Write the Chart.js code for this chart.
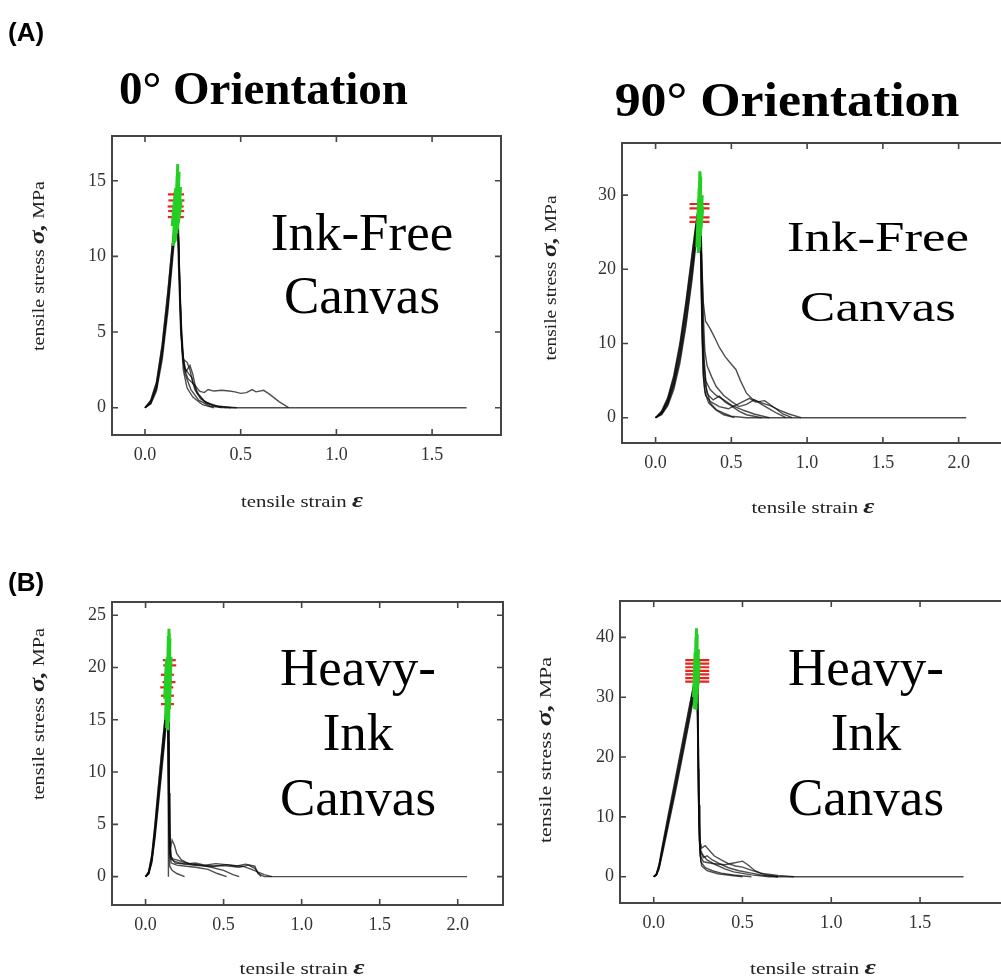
<!DOCTYPE html>
<html><head><meta charset="utf-8">
<script src="https://cdn.jsdelivr.net/npm/chart.js@4/dist/chart.umd.min.js"></script>
<style>
html,body{margin:0;padding:0;background:#fff;}
#wrap{position:relative;width:1001px;height:978px;overflow:hidden;background:#fff;}
canvas{position:absolute;left:0;top:0;}
</style></head><body>
<div id="wrap">
<canvas id="cA0" width="1001" height="978"></canvas>
<canvas id="cA90" width="1001" height="978"></canvas>
<canvas id="cB0" width="1001" height="978"></canvas>
<canvas id="cB90" width="1001" height="978"></canvas>
</div>
<script>
// ---------------- DATA ----------------
const xTickLabelsA0 = [0, 0.5, 1.0, 1.5];
const yTickLabelsA0 = [0, 5, 10, 15];
const xTickLabelsA90 = [0, 0.5, 1.0, 1.5, 2.0];
const yTickLabelsA90 = [0, 10, 20, 30];
const xTickLabelsB0 = [0, 0.5, 1.0, 1.5, 2.0];
const yTickLabelsB0 = [0, 5, 10, 15, 20, 25];
const xTickLabelsB90 = [0, 0.5, 1.0, 1.5];
const yTickLabelsB90 = [0, 10, 20, 30, 40];

// (A) 0° orientation, ink-free canvas : [strain, stress MPa]
const inkFree0_c1 = [[0,0],[0.03,0.3],[0.06,1.3],[0.09,3.6],[0.12,6.8],[0.14,9.6],[0.155,11.8],[0.165,12.9],[0.172,12.2],[0.178,9.5],[0.185,6.0],[0.195,3.6],[0.21,2.2],[0.24,1.2],[0.28,0.5],[0.34,0.1],[0.42,0],[1.68,0]];
const inkFree0_c2 = [[0,0],[0.03,0.45],[0.06,1.6],[0.09,4.1],[0.12,7.6],[0.14,10.5],[0.158,12.6],[0.168,13.3],[0.175,11.8],[0.182,8.0],[0.19,5.0],[0.2,3.0],[0.215,2.4],[0.235,2.8],[0.25,2.2],[0.27,1.0],[0.31,0.4],[0.38,0.1],[0.48,0]];
const inkFree0_c3 = [[0,0],[0.03,0.25],[0.06,1.1],[0.09,3.2],[0.12,6.4],[0.145,9.9],[0.16,12.0],[0.168,12.4],[0.176,10.5],[0.184,7.0],[0.193,4.2],[0.205,2.6],[0.225,1.9],[0.26,1.5],[0.285,1.1],[0.31,1.0],[0.33,1.2],[0.36,1.1],[0.4,1.15],[0.44,1.1],[0.47,1.05],[0.5,0.95],[0.53,1.0],[0.56,1.2],[0.58,1.05],[0.62,1.15],[0.65,0.9],[0.7,0.4],[0.75,0]];
const inkFree0_c4 = [[0,0],[0.03,0.35],[0.06,1.4],[0.09,3.7],[0.12,7.0],[0.14,9.9],[0.155,11.9],[0.163,12.5],[0.17,11.6],[0.178,8.2],[0.186,5.2],[0.2,3.2],[0.22,3.0],[0.235,2.5],[0.25,1.6],[0.28,0.9],[0.32,0.3],[0.4,0]];
const inkFree0_c5 = [[0,0],[0.03,0.3],[0.06,1.3],[0.09,3.5],[0.12,6.9],[0.145,10.4],[0.16,12.3],[0.17,12.8],[0.177,10.8],[0.183,7.5],[0.19,4.5],[0.2,2.5],[0.22,1.3],[0.25,0.7],[0.3,0.2],[0.36,0]];
const inkFree0_c6 = [[0,0],[0.03,0.5],[0.06,1.7],[0.09,4.2],[0.12,7.8],[0.145,11.0],[0.16,12.5],[0.167,13.0],[0.174,11.5],[0.181,8.5],[0.19,5.5],[0.2,3.4],[0.21,2.6],[0.225,2.3],[0.245,2.0],[0.26,1.2],[0.29,0.6],[0.35,0.15],[0.45,0]];
const inkFree0_green = [[[0.148,10.7],[0.160,14.5]],[[0.154,10.9],[0.168,15.3]],[[0.160,11.2],[0.171,16.1]],[[0.166,11.5],[0.178,15.6]],[[0.170,11.8],[0.186,14.6]],[[0.158,11.0],[0.170,15.8]],[[0.142,12.0],[0.156,14.0]],[[0.174,12.2],[0.190,13.8]]];
const inkFree0_red = [[0.162,14.1],[0.164,13.7],[0.160,13.3],[0.163,13.0],[0.161,12.6]];

// (A) 90° orientation, ink-free canvas
const inkFree90_c1 = [[0,0],[0.04,0.6],[0.08,2.0],[0.12,4.5],[0.16,8.3],[0.2,13.5],[0.24,19.8],[0.27,25.0],[0.285,27.8],[0.293,28.5],[0.3,24],[0.31,15],[0.32,8],[0.335,4],[0.36,2.0],[0.4,1.1],[0.45,0.6],[0.5,0.2],[0.6,0],[2.05,0]];
const inkFree90_c2 = [[0,0],[0.04,0.8],[0.08,2.5],[0.12,5.4],[0.16,9.6],[0.2,15.2],[0.24,21.6],[0.27,26.4],[0.283,28.2],[0.29,28.8],[0.297,26],[0.305,20],[0.315,15.5],[0.33,13],[0.36,12],[0.39,10.8],[0.42,9.5],[0.46,8.2],[0.5,7.2],[0.53,6.5],[0.56,5.0],[0.6,3.3],[0.64,2.5],[0.7,2.0],[0.76,1.6],[0.82,1.0],[0.88,0.5],[0.96,0]];
const inkFree90_c3 = [[0,0],[0.04,0.4],[0.08,1.6],[0.12,3.8],[0.16,7.3],[0.2,12.3],[0.24,18.5],[0.27,24.0],[0.29,27.3],[0.298,27.0],[0.305,22],[0.315,14],[0.325,9],[0.34,7.0],[0.37,5.5],[0.4,4.2],[0.45,3.0],[0.5,2.2],[0.55,1.5],[0.6,1.8],[0.65,2.4],[0.7,1.8],[0.75,1.2],[0.8,0.6],[0.86,0]];
const inkFree90_c4 = [[0,0],[0.04,0.6],[0.08,2.1],[0.12,4.7],[0.16,8.6],[0.2,14.0],[0.24,20.3],[0.265,24.7],[0.28,27.2],[0.288,27.9],[0.295,25],[0.302,18],[0.31,10],[0.32,5.5],[0.34,3.2],[0.38,2.4],[0.42,2.9],[0.46,2.1],[0.5,1.6],[0.55,0.9],[0.6,0.4],[0.7,0]];
const inkFree90_c5 = [[0,0],[0.04,0.5],[0.08,1.8],[0.12,4.2],[0.16,7.8],[0.2,12.8],[0.24,19.0],[0.27,25.0],[0.285,28.0],[0.292,27.5],[0.3,20],[0.308,11],[0.318,5],[0.33,3.0],[0.36,2.2],[0.42,1.5],[0.48,1.2],[0.55,1.9],[0.62,2.6],[0.66,2.1],[0.72,2.3],[0.78,1.4],[0.84,0.5],[0.9,0]];
const inkFree90_c6 = [[0,0],[0.04,0.7],[0.08,2.3],[0.12,5.1],[0.16,9.2],[0.2,14.7],[0.24,20.9],[0.268,25.6],[0.284,27.5],[0.29,27.2],[0.297,22],[0.305,13],[0.313,6],[0.325,3.5],[0.35,2.0],[0.4,1.0],[0.45,0.4],[0.52,0]];
const inkFree90_c7 = [[0,0],[0.04,0.9],[0.08,2.7],[0.12,5.7],[0.16,10.0],[0.2,15.6],[0.235,21.2],[0.265,26.0],[0.282,28.4],[0.29,29.0],[0.296,26],[0.303,19],[0.31,12],[0.32,7],[0.33,5],[0.36,3.8],[0.4,3.0],[0.45,2.4],[0.5,1.7],[0.58,1.0],[0.65,0.5],[0.75,0]];
const inkFree90_green = [[[0.272,23],[0.288,31]],[[0.282,22.2],[0.292,33.2]],[[0.290,23],[0.298,32.5]],[[0.296,24.5],[0.308,30]],[[0.276,25],[0.284,29.5]],[[0.287,22.5],[0.294,33]],[[0.300,25.5],[0.312,28.5]]];
const inkFree90_red = [[0.29,28.8],[0.29,28.2],[0.29,27.0],[0.29,26.4]];

// (B) 0° orientation, heavy-ink canvas
const heavy0_c1 = [[0,0],[0.02,0.3],[0.04,1.6],[0.06,4.2],[0.08,7.3],[0.1,10.4],[0.12,13.4],[0.135,15.8],[0.143,16.8],[0.148,14],[0.152,8],[0.156,3.5],[0.162,1.7],[0.18,1.5],[0.22,1.3],[0.3,1.1],[0.4,1.0],[0.5,1.05],[0.6,0.9],[0.66,1.1],[0.7,0.8],[0.74,0]];
const heavy0_c2 = [[0,0],[0.02,0.5],[0.04,2.1],[0.06,5.0],[0.08,8.3],[0.1,11.5],[0.12,14.5],[0.132,16.0],[0.138,16.5],[0.143,15],[0.147,9],[0.151,4.5],[0.158,2.5],[0.17,3.5],[0.185,3.0],[0.2,2.2],[0.23,1.6],[0.28,1.2],[0.35,1.1],[0.42,0.9],[0.5,0.6],[0.56,0.2],[0.6,0]];
const heavy0_c3 = [[0,0],[0.02,0.25],[0.04,1.3],[0.06,3.6],[0.08,6.5],[0.1,9.5],[0.12,12.6],[0.135,15.1],[0.145,16.2],[0.146,10],[0.147,0]];
const heavy0_c4 = [[0,0],[0.02,0.35],[0.04,1.7],[0.06,4.3],[0.08,7.5],[0.1,10.6],[0.12,13.7],[0.137,16.3],[0.145,17.0],[0.15,12],[0.155,5],[0.16,2.0],[0.175,1.7],[0.2,1.6],[0.24,1.4],[0.3,1.2],[0.36,1.1],[0.44,1.0],[0.52,1.15],[0.58,1.0],[0.64,1.2],[0.7,1.0],[0.72,0.3],[0.76,0],[2.06,0]];
const heavy0_c5 = [[0,0],[0.02,0.3],[0.04,1.5],[0.06,3.9],[0.08,6.9],[0.1,9.9],[0.12,12.9],[0.134,15.3],[0.14,16.0],[0.145,13],[0.15,6],[0.155,2.2],[0.165,1.3],[0.2,1.1],[0.26,1.0],[0.32,0.9],[0.4,0.7],[0.46,0.3],[0.52,0]];
const heavy0_c6 = [[0,0],[0.02,0.45],[0.04,2.0],[0.06,4.8],[0.08,8.1],[0.1,11.3],[0.12,14.4],[0.13,15.6],[0.138,16.2],[0.142,14],[0.146,8],[0.15,3],[0.155,1.0],[0.17,0.6],[0.2,0.3],[0.25,0]];
const heavy0_c7 = [[0,0],[0.02,0.3],[0.04,1.6],[0.06,4.2],[0.08,7.4],[0.1,10.5],[0.12,13.6],[0.136,16.0],[0.144,16.6],[0.149,13],[0.153,7],[0.158,3],[0.165,1.8],[0.19,1.3],[0.25,1.2],[0.32,1.3],[0.38,1.1],[0.45,1.25],[0.55,1.1],[0.62,1.0],[0.68,0.7],[0.76,0.2],[0.81,0]];
const heavy0_green = [[[0.128,15.0],[0.140,21.0]],[[0.135,14.2],[0.146,23.0]],[[0.142,14.0],[0.150,23.7]],[[0.148,14.8],[0.156,22.8]],[[0.153,16.0],[0.163,21.0]],[[0.122,17.0],[0.134,20.8]],[[0.145,15.5],[0.152,23.3]]];
const heavy0_red = [[0.152,20.7],[0.155,20.2],[0.14,19.3],[0.15,18.6],[0.136,18.1],[0.14,17.3],[0.14,16.5]];

// (B) 90° orientation, heavy-ink canvas
const heavy90_c1 = [[0,0],[0.015,0.3],[0.03,1.6],[0.05,4.6],[0.08,9.0],[0.12,14.8],[0.16,20.8],[0.2,27.0],[0.225,31.0],[0.238,33.4],[0.244,34.2],[0.248,30],[0.252,20],[0.256,10],[0.262,4.5],[0.28,3.5],[0.3,2.8],[0.35,2.0],[0.4,1.3],[0.45,0.8],[0.55,0.3],[0.65,0],[1.745,0]];
const heavy90_c2 = [[0,0],[0.015,0.5],[0.03,2.1],[0.05,5.4],[0.08,10.1],[0.12,16.2],[0.16,22.3],[0.2,28.4],[0.222,31.6],[0.235,33.6],[0.242,34.8],[0.246,31],[0.25,22],[0.255,12],[0.26,6],[0.27,4.8],[0.29,5.2],[0.31,4.5],[0.34,3.5],[0.38,2.8],[0.42,2.2],[0.46,1.8],[0.5,1.6],[0.54,1.2],[0.6,0.6],[0.7,0.2],[0.79,0]];
const heavy90_c3 = [[0,0],[0.015,0.25],[0.03,1.3],[0.05,4.0],[0.08,8.2],[0.12,13.8],[0.16,19.8],[0.2,25.9],[0.225,30.0],[0.236,32.4],[0.243,33.2],[0.247,28],[0.251,16],[0.256,7],[0.263,3.5],[0.28,2.5],[0.33,2.2],[0.4,2.0],[0.45,2.3],[0.5,2.6],[0.53,2.0],[0.57,1.0],[0.62,0.4],[0.7,0]];
const heavy90_c4 = [[0,0],[0.015,0.35],[0.03,1.7],[0.05,4.7],[0.08,9.2],[0.12,15.0],[0.16,21.0],[0.2,27.3],[0.224,31.2],[0.237,33.8],[0.243,34.0],[0.247,26],[0.252,14],[0.258,6],[0.265,2.5],[0.29,1.5],[0.33,1.0],[0.38,0.6],[0.45,0.3],[0.55,0]];
const heavy90_c5 = [[0,0],[0.015,0.45],[0.03,1.9],[0.05,5.1],[0.08,9.7],[0.12,15.6],[0.16,21.8],[0.2,28.0],[0.224,31.9],[0.238,34.5],[0.245,35.0],[0.249,29],[0.254,17],[0.259,8],[0.265,4.0],[0.28,3.2],[0.3,3.5],[0.33,2.8],[0.37,2.2],[0.42,1.5],[0.48,1.0],[0.55,0.6],[0.62,0.2],[0.7,0]];
const heavy90_c6 = [[0,0],[0.015,0.3],[0.03,1.5],[0.05,4.3],[0.08,8.6],[0.12,14.3],[0.16,20.3],[0.2,26.4],[0.225,30.6],[0.237,32.9],[0.242,33.0],[0.246,27],[0.25,18],[0.254,9],[0.26,4],[0.27,1.8],[0.3,1.0],[0.36,0.5],[0.44,0.2],[0.5,0]];
const heavy90_green = [[[0.230,28.0],[0.238,40.0]],[[0.235,28.5],[0.241,41.5]],[[0.240,29.0],[0.245,40.5]],[[0.244,30.5],[0.252,38.0]],[[0.224,30.0],[0.233,37.5]],[[0.238,27.9],[0.243,39.0]],[[0.247,31.5],[0.256,36.0]]];
const heavy90_red = [[0.245,36.2],[0.245,35.6],[0.245,35.0],[0.245,34.4],[0.245,33.8],[0.245,33.2],[0.245,32.6]];

// ---------------- RENDERING ----------------
const SERIF = '"Liberation Serif","Times New Roman","DejaVu Serif",serif';
const SANS = '"Liberation Sans",Arial,"DejaVu Sans",sans-serif';
const W = 1001, H = 978, YW = 40, XH = 40;

const toXY = arr => arr.map(p => ({x: p[0], y: p[1]}));
const segs = list => { const out = []; list.forEach(s => { s.forEach(p => out.push({x: p[0], y: p[1]})); out.push({x: s[s.length-1][0], y: null}); }); return out; };

const framePlugin = {
  id: 'frame',
  afterDraw(chart, args, o) {
    const ctx = chart.ctx, a = chart.chartArea, xs = chart.scales.x, ys = chart.scales.y;
    ctx.save();
    ctx.strokeStyle = '#454545'; ctx.lineWidth = 2; ctx.lineCap = 'butt';
    const R = o.open ? W + 2 : a.right;
    ctx.beginPath();
    ctx.moveTo(R, a.top); ctx.lineTo(a.left, a.top); ctx.lineTo(a.left, a.bottom); ctx.lineTo(R, a.bottom);
    if (!o.open) ctx.closePath();
    ctx.stroke();
    ctx.lineWidth = 1.6;
    const TL = 6;
    ctx.beginPath();
    xs.ticks.forEach(t => { const px = xs.getPixelForValue(t.value); ctx.moveTo(px, a.bottom); ctx.lineTo(px, a.bottom - TL); ctx.moveTo(px, a.top); ctx.lineTo(px, a.top + TL); });
    ys.ticks.forEach(t => { const py = ys.getPixelForValue(t.value); ctx.moveTo(a.left, py); ctx.lineTo(a.left + TL, py); if (!o.open) { ctx.moveTo(a.right, py); ctx.lineTo(a.right - TL, py); } });
    ctx.stroke();
    ctx.restore();
  }
};

const textPlugin = {
  id: 'panelText',
  afterDraw(chart, args, o) {
    const ctx = chart.ctx;
    (o.items || []).forEach(it => {
      ctx.save();
      ctx.fillStyle = it.color || '#000';
      ctx.textBaseline = 'alphabetic';
      if (it.kind === 'lines') {
        ctx.font = it.font; ctx.textAlign = 'center';
        it.lines.forEach((t, i) => { ctx.save(); ctx.translate(it.cx, it.baselines[i]); ctx.scale(it.sx || 1, 1); ctx.fillText(t, 0, 0); ctx.restore(); });
      } else if (it.kind === 'rich') {
        let total = 0;
        const ws = it.parts.map(p => { ctx.font = p.font; const w = ctx.measureText(p.text).width; total += w; return w; });
        const s = it.len ? it.len / total : 1;
        ctx.translate(it.x, it.y);
        if (it.rotate) ctx.rotate(-Math.PI / 2);
        ctx.scale(s, 1);
        ctx.textAlign = 'left';
        let xx = -total / 2;
        it.parts.forEach((p, i) => { ctx.font = p.font; ctx.fillText(p.text, xx, 0); xx += ws[i]; });
      } else {
        ctx.font = it.font; ctx.textAlign = it.align || 'left';
        ctx.translate(it.x, it.y); ctx.scale(it.sx || 1, 1); ctx.fillText(it.text, 0, 0);
      }
      ctx.restore();
    });
  }
};
Chart.register(framePlugin, textPlugin);

const REG = '17px ' + SERIF, GREEK = 'bold italic 22px ' + SERIF;
function xLabel(cx, by, len) { return {kind:'rich', x:cx, y:by, len:len, color:'#222', parts:[{text:'tensile strain ', font:REG},{text:'ε', font:GREEK}]}; }
function yLabel(bx, cy, len) { return {kind:'rich', x:bx, y:cy, len:len, rotate:true, color:'#222', parts:[{text:'tensile stress ', font:REG},{text:'σ,', font:GREEK},{text:' MPa', font:REG}]}; }

function makeChart(id, p) {
  const datasets = [];
  p.curves.forEach(c => datasets.push({data: toXY(c), borderColor: 'rgba(10,10,10,0.72)', borderWidth: 1.4, pointRadius: 0, tension: 0, fill: false, order: 2}));
  datasets.push({data: toXY(p.red), showLine: false, pointStyle: 'line', pointRadius: p.redR, pointBorderWidth: 2.2, borderColor: '#e8231c', backgroundColor: '#e8231c', order: 1});
  datasets.push({data: toXY(p.red), showLine: false, pointStyle: 'crossRot', pointRadius: 3, pointBorderWidth: 1.6, borderColor: '#e8231c', backgroundColor: '#e8231c', order: 1});
  datasets.push({data: segs(p.green), borderColor: '#22cf22', borderWidth: 3, pointRadius: 0, tension: 0, spanGaps: false, fill: false, order: 0});
  const tickFont = {family: SERIF, size: 18};
  new Chart(document.getElementById(id), {
    type: 'line',
    data: {datasets},
    options: {
      responsive: false, animation: false, devicePixelRatio: 1, events: [],
      layout: {padding: {left: p.box[0] - YW, top: p.box[1], right: p.open ? 0 : W - p.box[2], bottom: H - p.box[3] - XH}},
      plugins: {legend: {display: false}, tooltip: {enabled: false}, title: {display: false},
        frame: {open: !!p.open}, panelText: {items: p.texts}},
      scales: {
        x: {type: 'linear', min: p.xMin, max: p.xMax,
          afterBuildTicks: s => { s.ticks = p.xTicks.map(v => ({value: v})); },
          afterFit: s => { s.height = XH; },
          grid: {display: false, drawTicks: false}, border: {display: false},
          ticks: {padding: 9, color: '#333', font: tickFont, maxRotation: 0, autoSkip: false, callback: v => Number(v).toFixed(1)}},
        y: {type: 'linear', min: p.yMin, max: p.yMax,
          afterBuildTicks: s => { s.ticks = p.yTicks.map(v => ({value: v})); },
          afterFit: s => { s.width = YW; },
          grid: {display: false, drawTicks: false}, border: {display: false},
          ticks: {padding: 6, color: '#333', font: tickFont, autoSkip: false, callback: v => String(v)}}
      }
    }
  });
}

makeChart('cA0', {
  box: [112, 136, 501, 435], xMin: -0.1724, xMax: 1.860, yMin: -1.804, yMax: 17.96,
  xTicks: xTickLabelsA0, yTicks: yTickLabelsA0,
  curves: [inkFree0_c1, inkFree0_c2, inkFree0_c3, inkFree0_c4, inkFree0_c5, inkFree0_c6],
  green: inkFree0_green, red: inkFree0_red, redR: 8,
  texts: [
    {kind:'plain', text:'(A)', font:'bold 26px ' + SANS, x:8, y:41},
    {kind:'plain', text:'(B)', font:'bold 26px ' + SANS, x:8, y:591},
    {kind:'plain', text:'0° Orientation', font:'bold 47px ' + SERIF, align:'center', x:263.5, y:104},
    {kind:'plain', text:'90° Orientation', font:'bold 48px ' + SERIF, align:'center', x:787, y:116, sx:1.08},
    {kind:'lines', lines:['Ink-Free','Canvas'], font:'53px ' + SERIF, cx:362, baselines:[250, 313]},
    xLabel(302, 507, 122), yLabel(44, 266, 170)
  ]
});
makeChart('cA90', {
  box: [622, 143, 1001, 443], open: true, xMin: -0.2216, xMax: 2.199, yMin: -3.41, yMax: 37.02,
  xTicks: xTickLabelsA90, yTicks: yTickLabelsA90,
  curves: [inkFree90_c1, inkFree90_c2, inkFree90_c3, inkFree90_c4, inkFree90_c5, inkFree90_c6, inkFree90_c7],
  green: inkFree90_green, red: inkFree90_red, redR: 10,
  texts: [
    {kind:'lines', lines:['Ink-Free','Canvas'], font:'42px ' + SERIF, cx:878, baselines:[251, 321], sx:1.26},
    xLabel(813, 513, 123), yLabel(556, 278, 165)
  ]
});
makeChart('cB0', {
  box: [112, 602, 503, 905], xMin: -0.215, xMax: 2.29, yMin: -2.71, yMax: 26.26,
  xTicks: xTickLabelsB0, yTicks: yTickLabelsB0,
  curves: [heavy0_c1, heavy0_c2, heavy0_c3, heavy0_c4, heavy0_c5, heavy0_c6, heavy0_c7],
  green: heavy0_green, red: heavy0_red, redR: 6.5,
  texts: [
    {kind:'lines', lines:['Heavy-','Ink','Canvas'], font:'53px ' + SERIF, cx:358, baselines:[685, 750, 815]},
    xLabel(302, 974, 125), yLabel(44, 714, 172)
  ]
});
makeChart('cB90', {
  box: [620, 601, 1001, 903], open: true, xMin: -0.19, xMax: 1.876, yMin: -4.39, yMax: 46.07,
  xTicks: xTickLabelsB90, yTicks: yTickLabelsB90,
  curves: [heavy90_c1, heavy90_c2, heavy90_c3, heavy90_c4, heavy90_c5, heavy90_c6],
  green: heavy90_green, red: heavy90_red, redR: 12,
  texts: [
    {kind:'lines', lines:['Heavy-','Ink','Canvas'], font:'53px ' + SERIF, cx:866, baselines:[685, 750, 815]},
    xLabel(813, 974, 126), yLabel(551, 750, 186)
  ]
});
</script>
</body></html>
